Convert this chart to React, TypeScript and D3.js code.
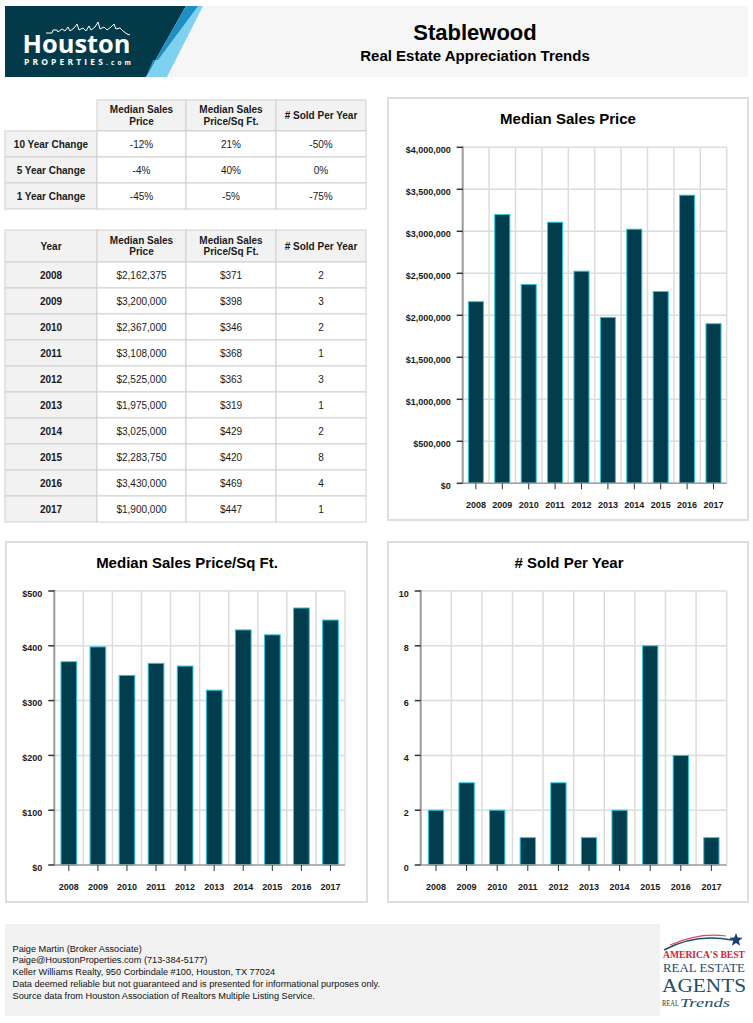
import React from 'react';
import * as d3 from 'd3';

const years = ['2008', '2009', '2010', '2011', '2012', '2013', '2014', '2015', '2016', '2017'];
const medianPrice = [2162375, 3200000, 2367000, 3108000, 2525000, 1975000, 3025000, 2283750, 3430000, 1900000];
const pricePerSqFt = [371, 398, 346, 368, 363, 319, 429, 420, 469, 447];
const soldPerYear = [2, 3, 2, 1, 3, 1, 2, 8, 4, 1];

const changeLabels = ['10 Year Change', '5 Year Change', '1 Year Change'];
const changePrice = ['-12%', '-4%', '-45%'];
const changePpsf = ['21%', '40%', '-5%'];
const changeSold = ['-50%', '0%', '-75%'];

const priceTicks = [0, 500000, 1000000, 1500000, 2000000, 2500000, 3000000, 3500000, 4000000];
const ppsfTicks = [0, 100, 200, 300, 400, 500];
const soldTicks = [0, 2, 4, 6, 8, 10];

const footerLines = [
  'Paige Martin (Broker Associate)',
  'Paige@HoustonProperties.com (713-384-5177)',
  'Keller Williams Realty, 950 Corbindale #100, Houston, TX 77024',
  'Data deemed reliable but not guaranteed and is presented for informational purposes only.',
  'Source data from Houston Association of Realtors Multiple Listing Service.',
];

const FONT = '"Liberation Sans", Arial, Helvetica, sans-serif';
const SERIF = '"Liberation Serif", "DejaVu Serif", serif';
const DARK = '#023d4d';
const CYAN = '#2cc6e0';
const GRID = '#dcdcdc';
const BORDER = '#cfcfcf';
const HEADBG = '#f2f2f2';
const TEXT = '#1a1a1a';

const fmtMoney = d3.format('$,.0f');

type ChartProps = {
  box: [number, number, number, number];
  title: string;
  titleX: number;
  titleY: number;
  plot: [number, number, number, number];
  values: number[];
  ticks: number[];
  fmt: (v: number) => string;
  barRatio: number;
};

function BarChart({ box, title, titleX, titleY, plot, values, ticks, fmt, barRatio }: ChartProps) {
  const [px0, py0, px1, py1] = plot;
  const x = d3.scaleBand<string>().domain(years).range([px0, px1]).paddingInner(0).paddingOuter(0);
  const y = d3.scaleLinear().domain([0, ticks[ticks.length - 1]]).range([py1, py0]);
  const step = x.step();
  const bw = step * barRatio;
  return (
    <g>
      <rect x={box[0]} y={box[1]} width={box[2]} height={box[3]} fill="#fff" stroke="#dedede" strokeWidth={2} />
      <text x={titleX} y={titleY} textAnchor="middle" fontFamily={FONT} fontWeight="bold" fontSize={15} fill="#000">
        {title}
      </text>
      {ticks.map((t) => (
        <line key={'h' + t} x1={px0} x2={px1} y1={y(t)} y2={y(t)} stroke={GRID} strokeWidth={1.5} />
      ))}
      {years.map((yr) => (
        <line key={'v' + yr} x1={(x(yr) as number) + step} x2={(x(yr) as number) + step} y1={py0} y2={py1} stroke={GRID} strokeWidth={1.5} />
      ))}
      {values.map((v, i) => {
        const cx = (x(years[i]) as number) + step / 2;
        return (
          <rect key={'b' + i} x={cx - bw / 2} y={y(v)} width={bw} height={y(0) - y(v)} fill={DARK} stroke={CYAN} strokeWidth={1} />
        );
      })}
      <line x1={px0} x2={px1} y1={py1} y2={py1} stroke="#a0a0a0" strokeWidth={1.5} />
      <line x1={px0} x2={px0} y1={py0 - 1} y2={py1} stroke="#9a9a9a" strokeWidth={2} />
      {ticks.map((t) => (
        <g key={'yt' + t}>
          <line x1={px0 - 6} x2={px0} y1={y(t)} y2={y(t)} stroke="#333" strokeWidth={1.5} />
          <text x={px0 - 12} y={y(t) + 5.5} textAnchor="end" fontFamily={FONT} fontWeight="bold" fontSize={9} fill={TEXT}>
            {fmt(t)}
          </text>
        </g>
      ))}
      {years.map((yr) => {
        const cx = (x(yr) as number) + step / 2;
        return (
          <g key={'xt' + yr}>
            <line x1={cx} x2={cx} y1={py1} y2={py1 + 6} stroke="#333" strokeWidth={1} />
            <text x={cx} y={py1 + 24.5} textAnchor="middle" fontFamily={FONT} fontWeight="bold" fontSize={9} fill={TEXT}>
              {yr}
            </text>
          </g>
        );
      })}
    </g>
  );
}

const colX = [5, 97, 186, 276, 366];

function Cell({ x0, x1, y0, y1, bg, lines, bold }: { x0: number; x1: number; y0: number; y1: number; bg: string; lines: string[]; bold?: boolean }) {
  const cx = (x0 + x1) / 2;
  const cy = (y0 + y1) / 2;
  const lh = 11.5;
  return (
    <g>
      <rect x={x0} y={y0} width={x1 - x0} height={y1 - y0} fill={bg} stroke={BORDER} strokeWidth={1} />
      {lines.map((l, i) => (
        <text key={i} x={cx} y={cy + 3.5 + (i - (lines.length - 1) / 2) * lh} textAnchor="middle" fontFamily={FONT} fontWeight={bold ? 'bold' : 'normal'} fontSize={10} fill={TEXT}>
          {l}
        </text>
      ))}
    </g>
  );
}

const headers = [['Median Sales', 'Price'], ['Median Sales', 'Price/Sq Ft.'], ['# Sold Per Year']];

function ChangeTable() {
  const top = 100;
  const headH = 31;
  const rowH = 26;
  return (
    <g>
      {headers.map((h, i) => (
        <Cell key={'h' + i} x0={colX[i + 1]} x1={colX[i + 2]} y0={top} y1={top + headH} bg={HEADBG} lines={h} bold />
      ))}
      {changeLabels.map((lab, r) => {
        const y0 = top + headH + r * rowH;
        const vals = [changePrice[r], changePpsf[r], changeSold[r]];
        return (
          <g key={'r' + r}>
            <Cell x0={colX[0]} x1={colX[1]} y0={y0} y1={y0 + rowH} bg={HEADBG} lines={[lab]} bold />
            {vals.map((v, c) => (
              <Cell key={c} x0={colX[c + 1]} x1={colX[c + 2]} y0={y0} y1={y0 + rowH} bg="#fff" lines={[v]} />
            ))}
          </g>
        );
      })}
    </g>
  );
}

function YearTable() {
  const top = 230;
  const headH = 32;
  const rowH = 26;
  return (
    <g>
      <Cell x0={colX[0]} x1={colX[1]} y0={top} y1={top + headH} bg={HEADBG} lines={['Year']} bold />
      {headers.map((h, i) => (
        <Cell key={'h' + i} x0={colX[i + 1]} x1={colX[i + 2]} y0={top} y1={top + headH} bg={HEADBG} lines={h} bold />
      ))}
      {years.map((yr, r) => {
        const y0 = top + headH + r * rowH;
        const vals = [fmtMoney(medianPrice[r]), fmtMoney(pricePerSqFt[r]), String(soldPerYear[r])];
        return (
          <g key={'r' + r}>
            <Cell x0={colX[0]} x1={colX[1]} y0={y0} y1={y0 + rowH} bg={HEADBG} lines={[yr]} bold />
            {vals.map((v, c) => (
              <Cell key={c} x0={colX[c + 1]} x1={colX[c + 2]} y0={y0} y1={y0 + rowH} bg="#fff" lines={[v]} />
            ))}
          </g>
        );
      })}
    </g>
  );
}

const skyline = [
  [46, 33], [52, 33], [53, 30], [57, 30], [58, 32], [62, 29], [65, 31], [68, 27], [70, 31], [74, 28], [77, 24], [79, 30],
  [83, 28], [86, 31], [89, 26], [91, 30], [95, 27], [98, 22], [100, 29], [104, 27], [107, 30], [111, 27], [114, 24], [116, 29],
  [120, 28], [123, 31], [127, 34], [130, 35],
];

function Header() {
  const line = d3.line();
  return (
    <g>
      <rect x={5} y={6} width={743} height={71} fill="#f6f6f6" />
      <polygon points="5,6 186,6 146,77 5,77" fill="#033a4a" />
      <polygon points="186,6 203,6 167,77 146,77" fill="#7fd2ef" />
      <polygon points="186,6 198,6 158,60 153,60 146,77" fill="#1d8fc2" />
      <path d={line(skyline as [number, number][]) as string} fill="none" stroke="#fff" strokeWidth={1} />
      <text x={22.5} y={52.5} fontFamily={'"Open Sans", ' + FONT} fontWeight="bold" fontSize={25} fill="#fff" textLength={108} lengthAdjust="spacingAndGlyphs">
        Houston
      </text>
      <text x={24} y={65} fontFamily={'"Open Sans", ' + FONT} fontWeight="bold" fill="#fff" textLength={107} lengthAdjust="spacing">
        <tspan fontSize={8.5}>PROPERTIES</tspan>
        <tspan fontSize={6.5}>.com</tspan>
      </text>
      <text x={475} y={40} textAnchor="middle" fontFamily={FONT} fontWeight="bold" fontSize={22} fill="#000">
        Stablewood
      </text>
      <text x={475} y={61} textAnchor="middle" fontFamily={FONT} fontWeight="bold" fontSize={15} fill="#000">
        Real Estate Appreciation Trends
      </text>
    </g>
  );
}

function starPoints(cx: number, cy: number, R: number, r: number) {
  const pts: string[] = [];
  for (let i = 0; i < 10; i++) {
    const a = -Math.PI / 2 + (i * Math.PI) / 5;
    const rad = i % 2 === 0 ? R : r;
    pts.push(`${cx + rad * Math.cos(a)},${cy + rad * Math.sin(a)}`);
  }
  return pts.join(' ');
}

function Footer() {
  return (
    <g>
      <rect x={5} y={924} width={743} height={92} fill="#f2f2f2" />
      {footerLines.map((l, i) => (
        <text key={i} x={12.5} y={951.5 + i * 11.8} fontFamily={FONT} fontSize={9.2} fill="#111">
          {l}
        </text>
      ))}
      <rect x={660} y={924} width={88} height={92} fill="#fff" />
      <path d="M664,950 Q695,933 732,940" fill="none" stroke="#1d4f6e" strokeWidth={1.5} />
      <path d="M670,945 Q700,932 726,936" fill="none" stroke="#e0485c" strokeWidth={1.2} />
      <polygon points={starPoints(736, 940, 7, 3)} fill="#1d3f74" />
      <text x={663} y={958} fontFamily={SERIF} fontWeight="bold" fontSize={10.5} fill="#d1233c" textLength={82} lengthAdjust="spacingAndGlyphs">
        AMERICA'S BEST
      </text>
      <text x={663} y={972} fontFamily={SERIF} fontSize={12.5} fill="#1d4e6a" textLength={82} lengthAdjust="spacingAndGlyphs">
        REAL ESTATE
      </text>
      <text x={662} y={992} fontFamily={SERIF} fontSize={19} fill="#1d4e6a" textLength={84} lengthAdjust="spacingAndGlyphs">
        AGENTS
      </text>
      <text x={662} y={1006} fontFamily={SERIF} fontSize={7.5} fill="#333" textLength={17} lengthAdjust="spacingAndGlyphs">
        REAL
      </text>
      <text x={680} y={1006.5} fontFamily={SERIF} fontStyle="italic" fontSize={12} fill="#1d4e6a" textLength={50} lengthAdjust="spacingAndGlyphs">
        Trends
      </text>
    </g>
  );
}

export default function App() {
  return (
    <div style={{ position: 'absolute', left: 0, top: 0 }}>
      <svg width={753} height={1023} viewBox="0 0 753 1023" style={{ display: 'block' }}>
        <rect x={0} y={0} width={753} height={1023} fill="#fff" />
        <Header />
        <ChangeTable />
        <YearTable />
        <BarChart
          box={[388, 98, 360, 422]}
          title="Median Sales Price"
          titleX={568}
          titleY={124}
          plot={[462.7, 147.3, 726.7, 483.3]}
          values={medianPrice}
          ticks={priceTicks}
          fmt={fmtMoney}
          barRatio={0.57}
        />
        <BarChart
          box={[6, 542, 361, 360]}
          title="Median Sales Price/Sq Ft."
          titleX={187}
          titleY={568}
          plot={[54.3, 591, 345, 865]}
          values={pricePerSqFt}
          ticks={ppsfTicks}
          fmt={fmtMoney}
          barRatio={0.54}
        />
        <BarChart
          box={[388, 542, 360, 360]}
          title="# Sold Per Year"
          titleX={569}
          titleY={568}
          plot={[420.7, 591, 726.7, 865]}
          values={soldPerYear}
          ticks={soldTicks}
          fmt={(v) => String(v)}
          barRatio={0.5}
        />
        <Footer />
      </svg>
    </div>
  );
}
